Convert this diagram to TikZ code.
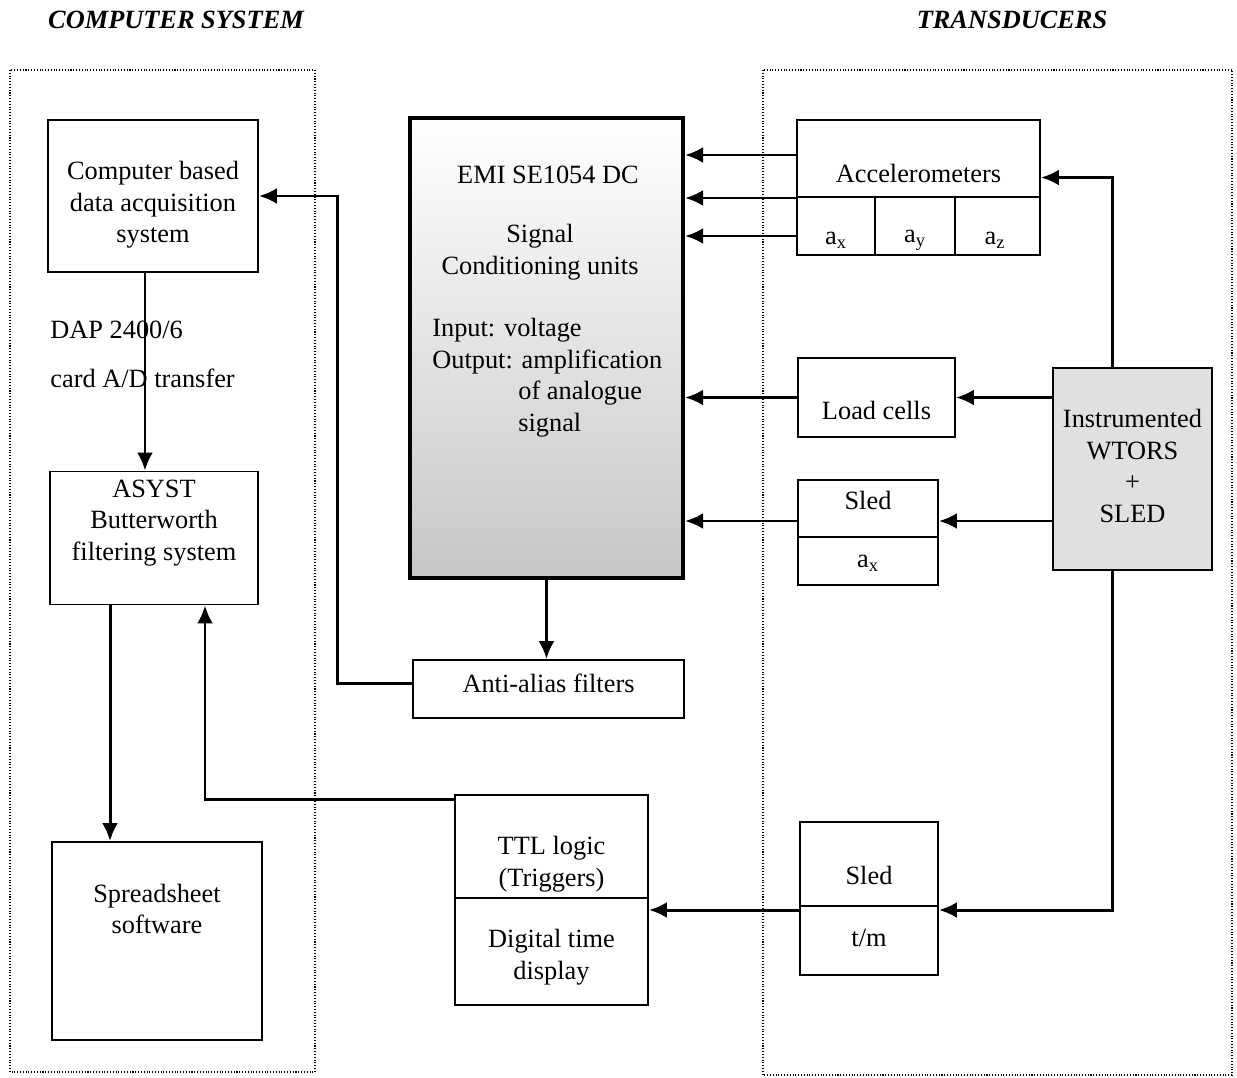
\documentclass[tikz,border=0pt]{standalone}
\usepackage{fontspec}
\setmainfont{Liberation Serif}
\usepackage{tikz}
\usetikzlibrary{arrows.meta, calc}

\begin{document}
\begin{tikzpicture}[x=0.02cm, y=-0.02cm,
		box/.style={draw, line width=1.1pt, inner sep=0pt},
		txt/.style={inner sep=0pt, align=center, font=\fontsize{15}{18}\selectfont},
		arr/.style={line width=1.7pt, -{Latex[length=0.36cm, width=0.32cm]}},
		frame/.style={densely dotted, line width=0.6pt},
		title/.style={inner sep=0pt, font=\fontsize{15}{18}\selectfont\bfseries\itshape}]
		\useasboundingbox (0,0) rectangle (1237,1078);

		% Titles and frames
		\node[title] (tcomp) at (176,20) {COMPUTER SYSTEM};
		\node[title] (ttrans) at (1012,20) {TRANSDUCERS};
		\draw[frame] (10,70) rectangle (315,1072);
		\draw[frame] (763,70) rectangle (1232,1075);

		% Computer system
		\node[box, minimum width=4.2cm, minimum height=3.04cm] (daq) at (153,196) {};
		\node[txt] at (153,205) {Computer based\\data acquisition\\system};
		\node[txt, anchor=west] (dap1) at (50,330) {DAP 2400/6};
		\node[txt, anchor=west] (dap2) at (50,378) {card A/D transfer};
		\node[box, minimum width=4.16cm, minimum height=2.66cm] (asyst) at (154,538) {};
		\node[txt] at (154,523) {ASYST\\Butterworth\\filtering system};
		\node[box, minimum width=4.2cm, minimum height=3.96cm] (spread) at (157,941) {};
		\node[txt] at (157,909) {Spreadsheet\\software};

		% Signal conditioning
		\node[draw, line width=2.4pt, top color=white, bottom color=black!22,
			minimum width=5.46cm, minimum height=9.2cm] (emi) at (546.5,348) {};
		\node[txt] at (548,175) {EMI SE1054 DC};
		\node[txt] at (540,252) {Signal\\Conditioning units};
		\node[txt, anchor=west] at (432,330) {Input: voltage};
		\node[txt, anchor=west] at (432,362) {Output: amplification};
		\node[txt, anchor=west] at (518,393) {of analogue};
		\node[txt, anchor=west] at (518,425) {signal};
		\node[box, minimum width=5.42cm, minimum height=1.16cm] (anti) at (548.5,689) {};
		\node[txt] at (548.5,683) {Anti-alias filters};
		\node[box, minimum width=3.86cm, minimum height=4.2cm] (ttl) at (551.5,900) {};
		\draw[line width=1.1pt] (ttl.west |- 0,898) -- (ttl.east |- 0,898);
		\node[txt] at (551.5,864) {TTL logic\\(Triggers)};
		\node[txt] at (551.5,957) {Digital time\\display};

		% Transducers
		\node[box, minimum width=4.86cm, minimum height=2.7cm] (acc) at (918.5,187.5) {};
		\draw[line width=1.1pt] (acc.west |- 0,197) -- (acc.east |- 0,197);
		\foreach \xd in {875,955}
			\draw[line width=1.1pt] (acc.south -| \xd,0) -- (\xd,197);
		\node[txt] at (918.5,173) {Accelerometers};
		\node[txt] at (836,240) {a\textsubscript{x}};
		\node[txt] at (915,240) {a\textsubscript{y}};
		\node[txt] at (995,240) {a\textsubscript{z}};
		\node[box, minimum width=3.18cm, minimum height=4.04cm, fill=black!12] (wtors) at (1132.5,469) {};
		\node[txt] at (1132.5,466) {Instrumented\\WTORS\\+\\SLED};
		\node[box, minimum width=3.14cm, minimum height=1.58cm] (load) at (876.5,397.5) {};
		\node[txt] at (876.5,410) {Load cells};
		\node[box, minimum width=2.8cm, minimum height=2.1cm] (sleda) at (868,532.5) {};
		\draw[line width=1.1pt] (sleda.west |- 0,537) -- (sleda.east |- 0,537);
		\node[txt] at (868,500) {Sled};
		\node[txt] at (868,563) {a\textsubscript{x}};
		\node[box, minimum width=2.76cm, minimum height=3.06cm] (sledb) at (869,898.5) {};
		\draw[line width=1.1pt] (sledb.west |- 0,906) -- (sledb.east |- 0,906);
		\node[txt] at (869,875) {Sled};
		\node[txt] at (869,938) {t/m};

		% Connections
		\draw[arr] ([xshift=-0.16cm]daq.south) -- ([xshift=-0.16cm]daq.south |- asyst.north);
		\draw[arr] ([xshift=-0.88cm]asyst.south) -- ([xshift=-0.88cm]asyst.south |- spread.north);
		\draw[arr] ([yshift=-0.1cm]ttl.north west) -| ($(asyst.south)+(51,0)$);
		\draw[arr] ([yshift=0.12cm]anti.west) -- ++(-75,0) |- (daq.east);
		\draw[arr] (emi.south) -- (emi.south |- anti.north);
		\foreach \yd in {155,198,236}
			\draw[arr] (acc.west |- 0,\yd) -- (emi.east |- 0,\yd);
		\draw[arr] ([xshift=-0.4cm]wtors.north) |- ([yshift=0.2cm]acc.east);
		\draw[arr] (wtors.west |- load.east) -- (load.east);
		\draw[arr] (load.west) -- (emi.east |- load.west);
		\draw[arr] (wtors.west |- 0,521) -- (sleda.east |- 0,521);
		\draw[arr] (sleda.west |- 0,521) -- (emi.east |- 0,521);
		\draw[arr] ([xshift=-0.4cm]wtors.south) |- (sledb.east |- 0,910);
		\draw[arr] (sledb.west |- 0,910) -- (ttl.east |- 0,910);
	\end{tikzpicture}
\end{document}
